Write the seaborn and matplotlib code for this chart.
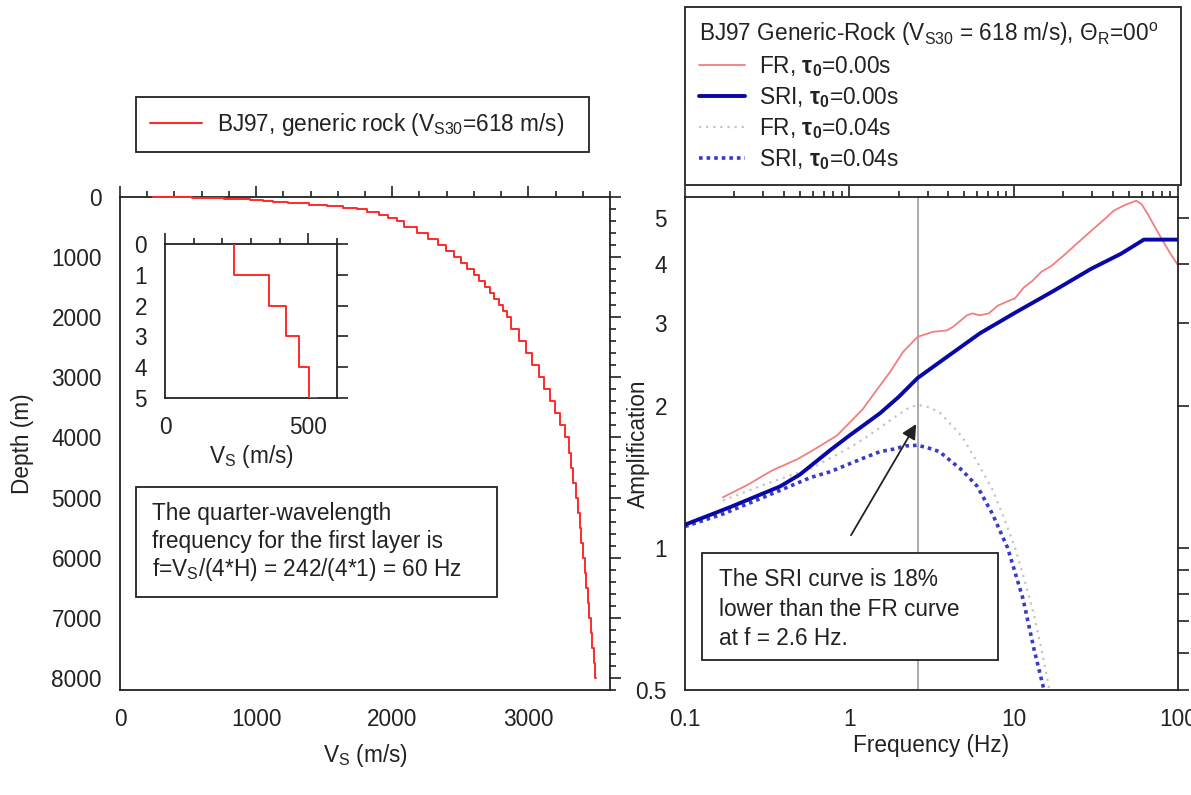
import numpy as np
import pandas as pd
import matplotlib
matplotlib.use("Agg")
import matplotlib.pyplot as plt
import seaborn as sns
from matplotlib.patches import Rectangle
from matplotlib.lines import Line2D
from matplotlib.ticker import FixedLocator, FixedFormatter, MultipleLocator, NullFormatter, LogLocator

# ---------------- data ----------------
# BJ97 generic rock velocity profile (layer tops, m) and shear-wave velocity (m/s)
depth_m = [0, 1, 2, 3, 4, 5, 10, 20, 30, 40, 50, 60, 75, 100, 125, 150, 175, 200, 250, 300, 350,
           400, 500, 600, 700, 800, 900, 1000, 1100, 1200, 1300, 1400, 1500, 1600, 1700, 1800,
           1900, 2000, 2200, 2400, 2600, 2800, 3000, 3200, 3400, 3600, 3800, 4000, 4250, 4500,
           4750, 5000, 5250, 5500, 5750, 6000, 6250, 6500, 6750, 7000, 7250, 7500, 7750, 8000]
vs_ms = [242, 364, 422, 468, 502, 530, 630, 761, 850, 956, 1047, 1127, 1234, 1387, 1520, 1637, 1742,
         1818, 1901, 1971, 2033, 2087, 2182, 2263, 2334, 2396, 2453, 2505, 2553, 2598, 2639, 2678,
         2716, 2751, 2784, 2816, 2846, 2876, 2931, 2982, 3030, 3075, 3117, 3158, 3196, 3232, 3267,
         3300, 3315, 3331, 3347, 3362, 3376, 3389, 3402, 3415, 3427, 3438, 3449, 3460, 3471, 3481,
         3491, 3500]

# Amplification curves
freq_fr0 = [0.17, 0.24, 0.34, 0.48, 0.60, 0.84, 1.0, 1.21, 1.34, 1.54, 1.77, 2.12, 2.6, 3.23, 3.93,
            4.27, 5.2, 5.6, 6.2, 7.05, 8.0, 9.0, 10.2, 11.5, 13.0, 14.8, 17.0, 20.4, 24.0, 29.5,
            35.0, 40.6, 46.0, 51.0, 55.8, 60.0, 65.4, 72.0, 80.9, 90.0, 100.0]
amp_fr0 = [1.28, 1.36, 1.46, 1.54, 1.61, 1.73, 1.84, 1.97, 2.07, 2.21, 2.36, 2.60, 2.80, 2.87, 2.89,
           2.94, 3.11, 3.14, 3.11, 3.14, 3.26, 3.32, 3.38, 3.56, 3.68, 3.85, 3.96, 4.18, 4.40, 4.69,
           4.94, 5.18, 5.30, 5.38, 5.44, 5.35, 5.10, 4.80, 4.47, 4.20, 3.97]

freq_sri0 = [0.1, 0.188, 0.379, 0.5, 0.763, 1.0, 1.25, 1.54, 2.0, 2.6, 3.93, 6.24, 10.2, 17.4,
             29.5, 45.0, 62.0, 100.0]
amp_sri0 = [1.12, 1.22, 1.35, 1.43, 1.61, 1.73, 1.83, 1.93, 2.09, 2.29, 2.54, 2.85, 3.15, 3.50,
            3.90, 4.20, 4.50, 4.50]

freq_fr04 = [0.17, 0.30, 0.60, 1.0, 1.22, 1.54, 2.0, 2.3, 2.6, 3.0, 3.53, 4.86, 6.0, 7.43, 8.7,
             10.2, 11.7, 13.3, 14.9, 16.5]
amp_fr04 = [1.26, 1.36, 1.48, 1.63, 1.70, 1.80, 1.92, 1.98, 2.01, 1.99, 1.94, 1.72, 1.52, 1.33,
            1.16, 1.00, 0.85, 0.72, 0.60, 0.50]

freq_sri04 = [0.1, 0.17, 0.30, 0.582, 0.763, 1.22, 1.54, 1.87, 2.2, 2.6, 3.0, 3.53, 4.86, 6.01,
              7.43, 9.19, 11.4, 13.3, 15.3]
amp_sri04 = [1.11, 1.18, 1.28, 1.41, 1.45, 1.55, 1.60, 1.62, 1.645, 1.65, 1.63, 1.60, 1.46, 1.35,
             1.18, 1.00, 0.78, 0.61, 0.50]

f_marker = 2.6

# ---------------- style ----------------
sns.set_style("white")
INK = "#222222"
FS = 16.3
plt.rcParams.update({
    "font.family": ["Liberation Sans", "DejaVu Sans"],
    "font.size": FS,
    "mathtext.fontset": "custom",
    "mathtext.rm": "Liberation Sans",
    "mathtext.it": "Liberation Sans:italic",
    "mathtext.bf": "Liberation Sans:bold",
    "mathtext.default": "regular",
    "axes.edgecolor": INK,
    "axes.linewidth": 1.3,
    "xtick.color": INK,
    "ytick.color": INK,
    "text.color": INK,
    "axes.labelcolor": INK,
    "xtick.labelsize": FS,
    "ytick.labelsize": FS,
})

W, H = 1191, 795
fig = plt.figure(figsize=(W / 100, H / 100), dpi=100, facecolor="white")


def rect(l, t, r, b):
    return [l / W, 1 - b / H, (r - l) / W, (b - t) / H]


def fy(py):
    return 1 - py / H


ax1 = fig.add_axes(rect(120, 197, 610, 690))
ax2 = fig.add_axes(rect(685, 197, 1178, 690))
axi = fig.add_axes(rect(165, 244, 337, 398))

RED = "#ff2a2a"


def style_ticks(ax, major=8, minor=4.5):
    ax.tick_params(which="both", direction="out", top=True, right=True,
                   labeltop=False, labelright=False, width=1.2, color=INK)
    ax.tick_params(which="major", length=major, pad=5)
    ax.tick_params(which="minor", length=minor)


# ---------------- left: profile ----------------
prof = pd.DataFrame({"Vs": vs_ms, "Depth": depth_m})
sns.lineplot(data=prof, x="Vs", y="Depth", ax=ax1, color=RED, lw=1.4,
             drawstyle="steps-pre", estimator=None, sort=False, legend=False,
             zorder=3, clip_on=False)
ax1.set_xlim(0, 3600)
ax1.set_ylim(8200, 0)
ax1.xaxis.set_major_locator(MultipleLocator(1000))
ax1.xaxis.set_minor_locator(MultipleLocator(200))
ax1.yaxis.set_major_locator(MultipleLocator(1000))
ax1.yaxis.set_minor_locator(MultipleLocator(200))
style_ticks(ax1)
ax1.set_xlabel("V$_S$ (m/s)", fontsize=FS)
ax1.set_ylabel("Depth (m)", fontsize=FS)
ax1.xaxis.set_label_coords(0.5, -0.105)
ax1.xaxis.label.set_va("top")
ax1.yaxis.set_label_coords(-0.175, 0.5)

# inset
ins = prof.iloc[:6]
sns.lineplot(data=ins, x="Vs", y="Depth", ax=axi, color=RED, lw=1.4,
             drawstyle="steps-pre", estimator=None, sort=False, legend=False, zorder=3)
axi.set_xlim(0, 600)
axi.set_ylim(5, 0)
axi.xaxis.set_major_locator(FixedLocator([0, 500]))
axi.xaxis.set_minor_locator(MultipleLocator(100))
axi.yaxis.set_major_locator(MultipleLocator(1))
style_ticks(axi)
axi.set_xlabel("V$_S$ (m/s)", fontsize=FS)
axi.xaxis.set_label_coords(0.5, -0.29)
axi.xaxis.label.set_va("top")
axi.set_ylabel("")

# left legend
leg1 = fig.legend([Line2D([], [], color=RED, lw=1.5)],
                  ["BJ97, generic rock (V$_{S30}$=618 m/s)"],
                  loc="upper left", bbox_to_anchor=(136 / W, fy(105), (589 - 136) / W, 0.01),
                  mode="expand", borderaxespad=0, fontsize=FS, handlelength=2.3,
                  handletextpad=0.66, borderpad=0.62, fancybox=False, framealpha=1,
                  edgecolor=INK)
leg1.get_frame().set_linewidth(1.3)

# left note box
fig.add_artist(Rectangle((136 / W, fy(597)), (497 - 136) / W, (597 - 487) / H,
                         transform=fig.transFigure, facecolor="white", edgecolor=INK, lw=1.3))
for txt, yb in [("The quarter-wavelength", 520),
                ("frequency for the first layer is", 548),
                ("f=V$_S$/(4*H) = 242/(4*1) = 60 Hz", 576)]:
    fig.text(152 / W, fy(yb), txt, ha="left", va="baseline", fontsize=FS)

# ---------------- right: amplification ----------------
ax2.set_xscale("log")
ax2.set_yscale("log")
ax2.axvline(f_marker, color="#ababab", lw=1.4, zorder=1)

c_fr0, c_sri0, c_fr04, c_sri04 = "#f27f7f", "#0808a8", "#c4c4c4", "#3a3ac8"
ls_fr04 = (0, (1, 2.2))
ls_sri04 = (0, (1, 1.1))

sns.lineplot(x=freq_fr0, y=amp_fr0, ax=ax2, color=c_fr0, lw=1.3, estimator=None, legend=False)
sns.lineplot(x=freq_fr04, y=amp_fr04, ax=ax2, color=c_fr04, lw=1.6, linestyle=ls_fr04,
             estimator=None, legend=False)
sns.lineplot(x=freq_sri04, y=amp_sri04, ax=ax2, color=c_sri04, lw=2.6, linestyle=ls_sri04,
             estimator=None, legend=False)
sns.lineplot(x=freq_sri0, y=amp_sri0, ax=ax2, color=c_sri0, lw=2.8, estimator=None, legend=False)

ax2.set_xlim(0.1, 100)
ax2.set_ylim(0.5, 5.54)
ax2.xaxis.set_major_locator(FixedLocator([0.1, 1, 10, 100]))
ax2.xaxis.set_major_formatter(FixedFormatter(["0.1", "1", "10", "100"]))
ax2.xaxis.set_minor_locator(LogLocator(base=10, subs=np.arange(2, 10)))
ax2.xaxis.set_minor_formatter(NullFormatter())
ax2.yaxis.set_major_locator(FixedLocator([0.5, 1, 2, 3, 4, 5]))
ax2.yaxis.set_major_formatter(FixedFormatter(["0.5", "1", "2", "3", "4", "5"]))
ax2.yaxis.set_minor_locator(FixedLocator([0.6, 0.7, 0.8, 0.9]))
ax2.yaxis.set_minor_formatter(NullFormatter())
style_ticks(ax2)
ax2.tick_params(axis="y", which="minor", left=False, right=True, length=8)
ax2.set_xlabel("Frequency (Hz)", fontsize=FS)
ax2.xaxis.set_label_coords(0.5, -0.09)
ax2.xaxis.label.set_va("top")
ax2.set_ylabel("Amplification", fontsize=FS)
ax2.yaxis.set_label_coords(-0.071, 0.5)

ax2.annotate("", xy=(2.55, 1.83), xytext=(1.024, 1.064),
             arrowprops=dict(arrowstyle="-|>", color=INK, lw=1.3, mutation_scale=22,
                             shrinkA=0, shrinkB=0), zorder=5)

# right note box
fig.add_artist(Rectangle((702 / W, fy(660)), (998 - 702) / W, (660 - 553) / H,
                         transform=fig.transFigure, facecolor="white", edgecolor=INK, lw=1.3))
for txt, yb in [("The SRI curve is 18%", 586),
                ("lower than the FR curve", 616),
                ("at f = 2.6 Hz.", 645)]:
    fig.text(719 / W, fy(yb), txt, ha="left", va="baseline", fontsize=FS)

# right legend
handles = [Line2D([], [], color=c_fr0, lw=1.3),
           Line2D([], [], color=c_sri0, lw=2.8),
           Line2D([], [], color=c_fr04, lw=1.6, linestyle=ls_fr04),
           Line2D([], [], color=c_sri04, lw=2.6, linestyle=ls_sri04)]
labels = ["FR, $\\mathbf{\\tau_0}$=0.00s", "SRI, $\\mathbf{\\tau_0}$=0.00s",
          "FR, $\\mathbf{\\tau_0}$=0.04s", "SRI, $\\mathbf{\\tau_0}$=0.04s"]
leg2 = fig.legend(handles, labels,
                  title="BJ97 Generic-Rock (V$_{S30}$ = 618 m/s), $\\Theta_R$=00$^{o}$",
                  loc="upper left", bbox_to_anchor=(685 / W, fy(15), (1181 - 685) / W, 0.01),
                  mode="expand", borderaxespad=0, fontsize=FS, title_fontsize=FS,
                  alignment="left", handlelength=2.05, handletextpad=0.62, borderpad=0.6,
                  labelspacing=0.27, fancybox=False, framealpha=1, edgecolor=INK)
leg2.get_frame().set_linewidth(1.3)

fig.savefig("out.png", dpi=100, facecolor="white")
